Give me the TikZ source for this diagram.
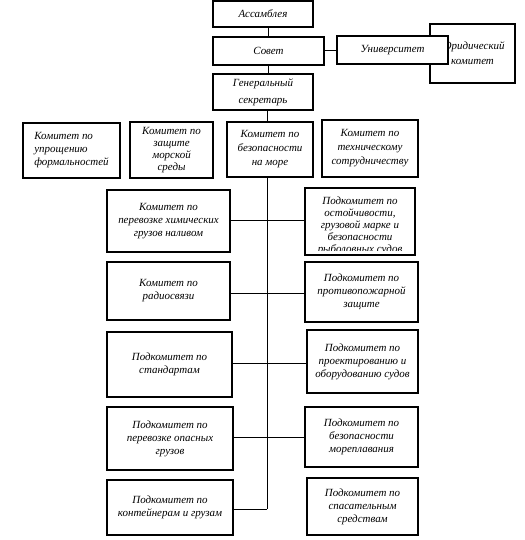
\documentclass[tikz,border=0pt]{standalone}
\usepackage{fontspec}
\setmainfont{Liberation Serif}
\begin{document}
\begin{tikzpicture}[x=1bp,y=-1bp,
  box/.style={draw=black,line width=1.5bp,fill=white,align=center,inner sep=1bp,outer sep=0pt,
    font=\fontsize{11}{13}\selectfont\itshape},
  conn/.style={draw=black,line width=0.9bp}]
\useasboundingbox (0,0) rectangle (525,540);
\newcommand\bx[7][]{%
  \pgfmathsetmacro\bw{#4-#2}\pgfmathsetmacro\bh{#5-#3}%
  \pgfmathsetmacro\bcx{(#2+#4)/2}\pgfmathsetmacro\bcy{(#3+#5)/2}%
  \node[box,minimum width=\bw bp,minimum height=\bh bp,#1] (#6) at (\bcx,\bcy) {#7};}
% top
\bx{213}{1}{313}{27}{ass}{Ассамблея}
\bx{213}{37}{324}{65}{sov}{Совет}
\bx[font=\fontsize{11}{17}\selectfont\itshape]{213}{74}{313}{110}{gen}{Генеральный\\секретарь}
\bx[font=\fontsize{11}{15}\selectfont\itshape]{430}{24}{515}{83}{yur}{Юридический\\комитет}
\bx{337}{36}{448}{64}{uni}{Университет}
% committees
\bx[align=left]{23}{123}{120}{178}{c1}{Комитет по\\упрощению\\формальностей}
\bx[font=\fontsize{11}{12.3}\selectfont\itshape]{130}{122}{213}{178}{c2}{Комитет по\\защите\\морской\\среды}
\bx[font=\fontsize{11}{14}\selectfont\itshape]{227}{122}{313}{177}{c3}{Комитет по\\безопасности\\на море}
\bx[font=\fontsize{11}{14}\selectfont\itshape]{322}{120}{418}{177}{c4}{Комитет по\\техническому\\сотрудничеству}
% sub-committees
\bx{107}{190}{230}{252}{L1}{Комитет по\\перевозке химических\\грузов наливом}
\bx{305}{188}{415}{255}{R1}{}
\begin{scope}
  \clip (306,189) rectangle (414,250);
  \node[box,draw=none,fill=none,anchor=north,font=\fontsize{11}{12}\selectfont\itshape] (R1t) at (360,196)
    {Подкомитет по\\остойчивости,\\грузовой марке и\\безопасности\\рыболовных судов};
\end{scope}
\bx{107}{262}{230}{320}{L2}{Комитет по\\радиосвязи}
\bx{305}{262}{418}{322}{R2}{Подкомитет по\\противопожарной\\защите}
\bx{107}{332}{232}{397}{L3}{Подкомитет по\\стандартам}
\bx{307}{330}{418}{393}{R3}{Подкомитет по\\проектированию и\\оборудованию судов}
\bx{107}{407}{233}{470}{L4}{Подкомитет по\\перевозке опасных\\грузов}
\bx{305}{407}{418}{467}{R4}{Подкомитет по\\безопасности\\мореплавания}
\bx{107}{480}{233}{535}{L5}{Подкомитет по\\контейнерам и грузам}
\bx{307}{478}{418}{535}{R5}{Подкомитет по\\спасательным\\средствам}
% connectors
\coordinate (vx) at (267,0);
\coordinate (vend) at (267,509);
\draw[conn] (sov.north -| 268,0) -- (ass.south -| 268,0);
\draw[conn] (sov.south -| 268,0) -- (gen.north -| 268,0);
\draw[conn] (sov.east |- 0,50) -- (uni.west |- 0,50);
\draw[conn] (gen.south -| vx) -- (c3.north -| vx);
\draw[conn] (c3.south -| vx) -- (vend);
\draw[conn] (L1.east |- 0,220) -- (R1.west |- 0,220);
\draw[conn] (L2.east |- 0,293) -- (R2.west |- 0,293);
\draw[conn] (L3.east |- 0,363) -- (R3.west |- 0,363);
\draw[conn] (L4.east |- 0,437) -- (R4.west |- 0,437);
\draw[conn] (L5.east |- vend) -- (vend);
\end{tikzpicture}
\end{document}
